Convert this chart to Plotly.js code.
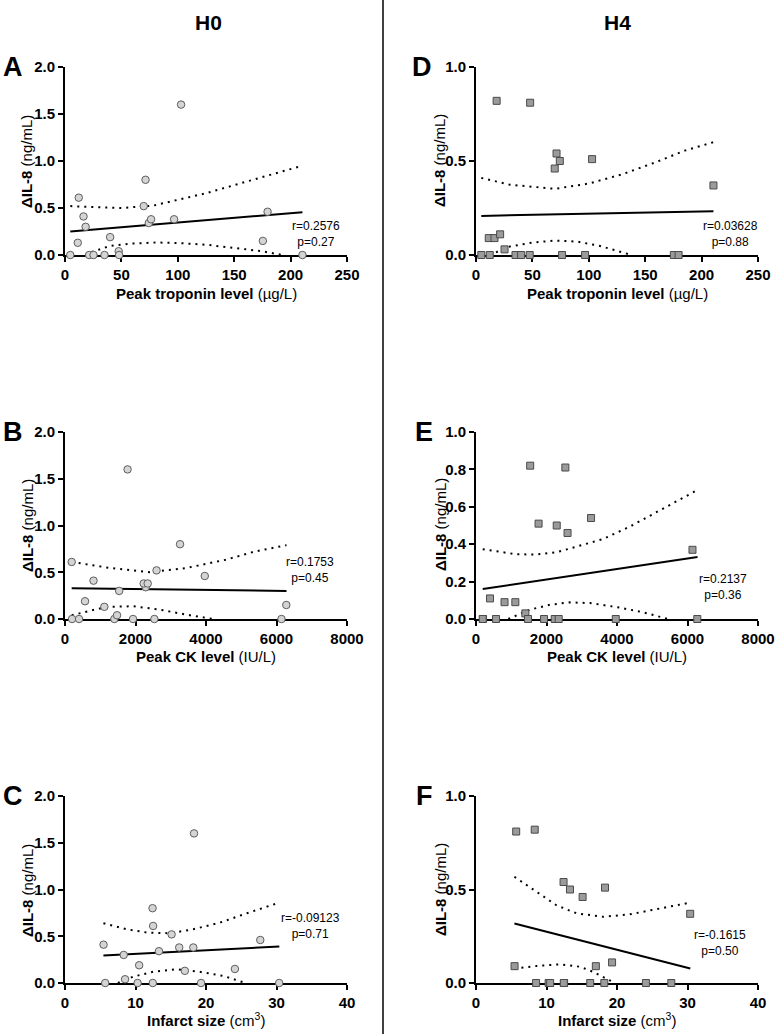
<!DOCTYPE html>
<html>
<head>
<meta charset="utf-8">
<script src="https://cdn.plot.ly/plotly-3.0.1.min.js"></script>
<style>
body { margin: 0; background: #fff; }
#chart { width: 775px; height: 1034px; }
</style>
</head>
<body>
<div id="chart"></div>
<script>
// one entry per patient (same order in every array)
var troponin = [4.7, 11.3, 12.2, 16.4, 18.3, 21.4, 25.3, 35.0, 40.0, 47.6, 48.0, 69.8, 71.4, 74.3, 76.3, 96.7, 102.9, 175.4, 179.6, 210.5];
var ckLevel = [200, 1116, 190, 809, 1537, 398, 1400, 1930, 568, 1476, 2535, 2597, 3264, 2290, 2233, 2346, 1775, 6278, 3965, 6141];
var infarctSize = [10.3, 17.0, 12.5, 5.47, 8.33, 19.3, null, 12.45, 10.52, 8.52, 5.7, 15.12, 12.42, 13.33, 16.2, 18.2, 18.3, 24.1, 27.7, 30.38];
var il8H0 = [0, 0.13, 0.61, 0.41, 0.30, 0, 0, 0, 0.19, 0.04, 0, 0.52, 0.80, 0.34, 0.38, 0.38, 1.60, 0.15, 0.46, 0];
var il8H4 = [0, 0.09, 0, 0.09, 0.82, 0.11, 0.03, 0, 0, 0, 0.81, 0.46, 0.54, 0.50, 0, 0, 0.51, 0, 0, 0.37];

// regression lines and 95% bands
var fitA_x = [4.7, 210.5], fitA_y = [0.25, 0.455];
var upA_x = [4.7, 25, 50, 78, 102, 126, 149, 179, 210.5];
var upA_y = [0.52, 0.51, 0.50, 0.525, 0.59, 0.66, 0.74, 0.84, 0.95];
var loA_x = [18, 22, 40, 60, 81, 102, 126, 149, 173, 193];
var loA_y = [0, 0.025, 0.097, 0.122, 0.133, 0.126, 0.108, 0.08, 0.043, 0];

var fitD_x = [4.7, 210.5], fitD_y = [0.208, 0.233];
var upD_x = [4.7, 30, 70, 100, 130, 160, 185, 210.5];
var upD_y = [0.41, 0.374, 0.352, 0.38, 0.43, 0.495, 0.555, 0.60];
var loD_x = [12, 30, 50, 70, 90, 110, 138];
var loD_y = [0, 0.045, 0.066, 0.077, 0.071, 0.048, 0];

var fitB_x = [190, 6284], fitB_y = [0.329, 0.30];
var upB_x = [190, 1270, 2408, 3450, 4588, 5346, 6284];
var upB_y = [0.61, 0.546, 0.50, 0.546, 0.636, 0.718, 0.79];
var loB_x = [190, 607, 1175, 1934, 2692, 3450, 4209];
var loB_y = [0.04, 0.08, 0.13, 0.136, 0.10, 0.046, 0];

var fitE_x = [190, 6284], fitE_y = [0.16, 0.332];
var upE_x = [190, 1152, 1719, 2286, 2852, 3608, 4363, 5119, 6284];
var upE_y = [0.373, 0.346, 0.345, 0.357, 0.387, 0.428, 0.494, 0.57, 0.69];
var loE_x = [916, 1530, 2097, 2663, 3230, 3986, 4741, 5450];
var loE_y = [0, 0.05, 0.076, 0.089, 0.085, 0.064, 0.036, 0];

var fitC_x = [5.45, 30.4], fitC_y = [0.293, 0.39];
var upC_x = [5.45, 8.75, 11.6, 14.9, 18.2, 22, 25.8, 30.4];
var upC_y = [0.64, 0.575, 0.54, 0.532, 0.575, 0.646, 0.746, 0.86];
var loC_x = [7.5, 9.7, 12.5, 15.8, 19.1, 22.5, 25.6];
var loC_y = [0, 0.068, 0.12, 0.146, 0.12, 0.075, 0];

var fitF_x = [5.45, 30.4], fitF_y = [0.318, 0.078];
var upF_x = [5.45, 8.6, 11.4, 14.3, 18.06, 21.8, 25.6, 30.4];
var upF_y = [0.568, 0.488, 0.416, 0.372, 0.354, 0.367, 0.395, 0.43];
var loF_x = [5.45, 8.6, 11.9, 14.75, 16.6, 18.5, 19.7];
var loF_y = [0.078, 0.091, 0.1, 0.087, 0.06, 0.025, 0];

var W = 775, H = 1034;
function px(x) { return x / W; }
function py(y) { return 1 - y / H; }

function panelTraces(n, xs, ys, fitX, fitY, upX, upY, loX, loY, square) {
    var xa = n == 1 ? 'x' : 'x' + n;
    var ya = n == 1 ? 'y' : 'y' + n;
    var dotted = { color: '#000', width: 2, dash: '2px,5px' };
    var traces = [
        { x: upX, y: upY, mode: 'lines', line: dotted, xaxis: xa, yaxis: ya },
        { x: loX, y: loY, mode: 'lines', line: dotted, xaxis: xa, yaxis: ya },
        { x: fitX, y: fitY, mode: 'lines', line: { color: '#000', width: 2 }, xaxis: xa, yaxis: ya },
        {
            x: xs, y: ys, mode: 'markers', xaxis: xa, yaxis: ya, cliponaxis: false,
            marker: square
                ? { symbol: 'square', size: 7, color: '#9b9b9b', line: { color: '#4a4a4a', width: 1 } }
                : { symbol: 'circle', size: 7.5, color: '#d4d4d4', line: { color: '#5e5e5e', width: 1 } }
        }
    ];
    traces.forEach(function(t) { t.showlegend = false; t.hoverinfo = 'skip'; });
    return traces;
}

var data = [].concat(
    panelTraces(1, troponin, il8H0, fitA_x, fitA_y, upA_x, upA_y, loA_x, loA_y, false),
    panelTraces(2, troponin, il8H4, fitD_x, fitD_y, upD_x, upD_y, loD_x, loD_y, true),
    panelTraces(3, ckLevel, il8H0, fitB_x, fitB_y, upB_x, upB_y, loB_x, loB_y, false),
    panelTraces(4, ckLevel, il8H4, fitE_x, fitE_y, upE_x, upE_y, loE_x, loE_y, true),
    panelTraces(5, infarctSize, il8H0, fitC_x, fitC_y, upC_x, upC_y, loC_x, loC_y, false),
    panelTraces(6, infarctSize, il8H4, fitF_x, fitF_y, upF_x, upF_y, loF_x, loF_y, true)
);

var FONT = 'Arial, "Liberation Sans", sans-serif';
var tickFont = { family: FONT, size: 15, color: '#000', weight: 'bold' };

function axis(domain, anchor, range, dtick, fmt) {
    return {
        domain: domain, anchor: anchor, range: range, dtick: dtick, tick0: 0,
        tickformat: fmt || '', showgrid: false, zeroline: false,
        showline: true, linecolor: '#000', linewidth: 2,
        ticks: 'outside', ticklen: 5, tickwidth: 2, tickcolor: '#000',
        tickfont: tickFont, layer: 'below traces', fixedrange: true
    };
}

var colL = [px(65), px(347)], colR = [px(476), px(758)];
var row1 = [py(255), py(67)], row2 = [py(619), py(432)], row3 = [py(983), py(796)];

var layout = {
    width: W, height: H,
    margin: { l: 0, r: 0, t: 0, b: 0 },
    paper_bgcolor: '#fff', plot_bgcolor: 'rgba(0,0,0,0)',
    font: { family: FONT, color: '#000' },
    xaxis: axis(colL, 'y', [0, 250], 50),
    yaxis: axis(row1, 'x', [0, 2], 0.5, '.1f'),
    xaxis2: axis(colR, 'y2', [0, 250], 50),
    yaxis2: axis(row1, 'x2', [0, 1], 0.5, '.1f'),
    xaxis3: axis(colL, 'y3', [0, 8000], 2000),
    yaxis3: axis(row2, 'x3', [0, 2], 0.5, '.1f'),
    xaxis4: axis(colR, 'y4', [0, 8000], 2000),
    yaxis4: axis(row2, 'x4', [0, 1], 0.2, '.1f'),
    xaxis5: axis(colL, 'y5', [0, 40], 10),
    yaxis5: axis(row3, 'x5', [0, 2], 0.5, '.1f'),
    xaxis6: axis(colR, 'y6', [0, 40], 10),
    yaxis6: axis(row3, 'x6', [0, 1], 0.5, '.1f'),
    shapes: [{
        type: 'line', xref: 'paper', yref: 'paper',
        x0: px(383), x1: px(383), y0: 0, y1: 1,
        line: { color: '#000', width: 1.5 }
    }],
    annotations: []
};

function addText(text, x, y, size, opts) {
    var a = {
        text: text, xref: 'paper', yref: 'paper', x: px(x), y: py(y),
        xanchor: 'center', yanchor: 'middle', showarrow: false,
        font: { family: FONT, size: size, color: '#000' }
    };
    for (var k in (opts || {})) a[k] = opts[k];
    layout.annotations.push(a);
}

// column headers and panel letters
addText('<b>H0</b>', 208, 23, 21);
addText('<b>H4</b>', 617, 23, 21);
var letters = [['A', 13, 67], ['D', 422, 67], ['B', 13, 432], ['E', 424, 432], ['C', 13, 796], ['F', 424, 796]];
letters.forEach(function(l) { addText('<b>' + l[0] + '</b>', l[1], l[2], 27); });

// axis titles
var yTitle = '<b>\u0394IL-8</b> (ng/mL)';
[161, 525, 890].forEach(function(cy) {
    addText(yTitle, 27, cy, 15, { textangle: -90 });
    addText(yTitle, 440, cy, 15, { textangle: -90 });
});
var xTitles = [['<b>Peak troponin level</b> (\u00b5g/L)', 293], ['<b>Peak CK level</b> (IU/L)', 656], ['<b>Infarct size</b> (cm<sup>3</sup>)', 1019]];
xTitles.forEach(function(t) {
    addText(t[0], 206, t[1], 15);
    addText(t[0], 617, t[1], 15);
});

// correlation stats
addText('r=0.2576<br>p=0.27', 316, 234, 12);
addText('r=0.03628<br>p=0.88', 730, 234, 12);
addText('r=0.1753<br>p=0.45', 310, 570, 12);
addText('r=0.2137<br>p=0.36', 723, 587, 12);
addText('r=-0.09123<br>p=0.71', 310, 926, 12);
addText('r=-0.1615<br>p=0.50', 720, 943, 12);

Plotly.newPlot('chart', data, layout, { staticPlot: true, displayModeBar: false });
</script>
</body>
</html>
